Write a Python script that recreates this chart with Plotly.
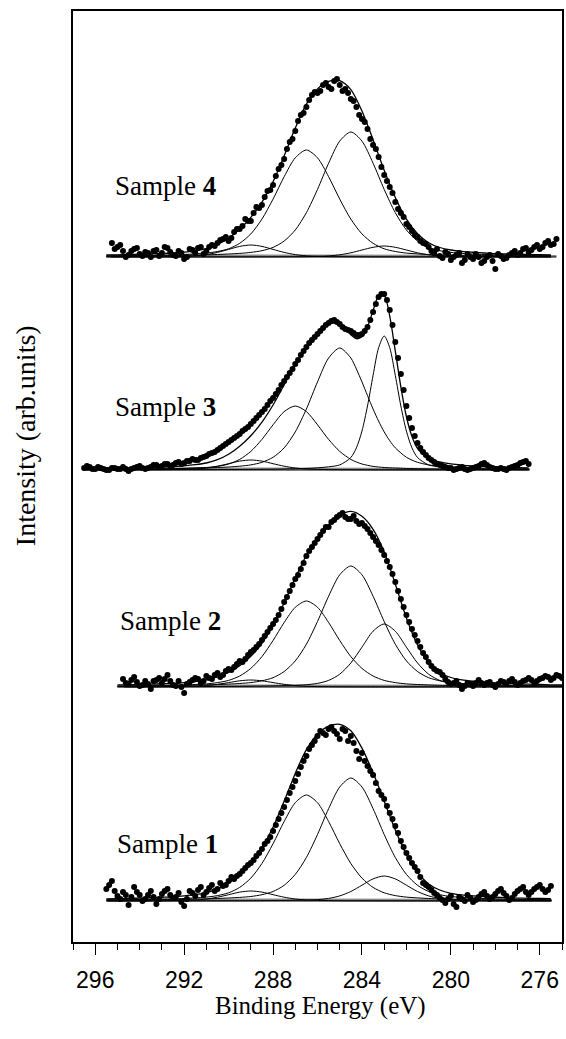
import plotly.graph_objects as go

# ---------------- data (binding energy in eV, intensity in arb. units above each baseline) ----------------
s4_e = [295.5,295.0,294.5,294.0,293.5,293.0,292.5,292.0,291.5,291.0,290.5,290.0,289.5,289.0,288.5,288.0,287.5,287.0,286.5,286.0,285.5,285.0,284.5,284.0,283.5,283.0,282.5,282.0,281.5,281.0,280.5,280.0,279.5,279.0,278.5,278.0,277.5,277.0,276.5,276.0,275.5]
s4_c1 = [0.8,0.9,1.0,1.1,1.2,1.35,1.5,1.7,1.9,2.1,2.5,3.0,3.6,4.6,6.3,9.6,16.0,27.0,44.3,67.6,93.8,115.9,125,115.9,93.8,67.6,44.3,27.0,16.0,9.6,6.3,4.6,3.6,3.0,2.5,2.1,1.9,1.7,1.5,1.35,1.2]
s4_c2 = [1.1,1.2,1.3,1.45,1.6,1.8,2.1,2.5,3.1,3.9,5.5,8.2,13.7,23.1,37.9,57.9,80.3,99.2,107,99.2,80.3,57.9,37.9,23.1,13.7,8.2,5.5,3.9,3.1,2.5,2.1,1.8,1.6,1.45,1.3,1.2,1.1,1.0,0.95,0.9,0.8]
s4_c3 = [0.15,0.15,0.15,0.2,0.25,0.3,0.4,0.7,1.2,2.4,4.6,7.6,10.6,12,10.6,7.6,4.6,2.4,1.2,0.7,0.4,0.3,0.25,0.2,0.15,0.15,0.12,0.12,0.1,0.1,0.1,0.1,0.1,0.1,0.1,0.1,0.1,0.1,0.1,0.1,0.1]
s4_c4 = [0.1,0.1,0.1,0.1,0.1,0.1,0.1,0.1,0.1,0.1,0.12,0.15,0.15,0.15,0.18,0.2,0.25,0.3,0.4,0.6,1.1,2.2,4.2,7.0,9.7,11,9.7,7.0,4.2,2.2,1.1,0.6,0.4,0.3,0.25,0.2,0.18,0.15,0.15,0.12,0.12]
s4_env = [2.0,2.2,2.5,2.8,3.1,3.5,4.0,4.9,6.2,8.4,12.6,18.8,27.9,39.7,54.8,75.3,101.2,128.9,152.9,168.1,175.6,176.3,167.3,146.0,117.2,86.8,59.5,37.9,23.3,14.3,9.5,7.0,5.6,4.75,4.0,3.4,3.0,2.7,2.5,2.3,2.0]
s4_dot_e = [295.25,295.0,294.75,294.5,294.25,294.0,293.75,293.5,293.25,293.0,292.75,292.5,292.25,292.0,291.75,291.5,291.25,291.0,290.75,290.5,290.25,290.0,289.75,289.5,289.25,289.0,288.75,288.5,288.25,288.0,287.75,287.5,287.25,287.0,286.75,286.5,286.25,286.0,285.75,285.5,285.25,285.0,284.75,284.5,284.25,284.0,283.75,283.5,283.25,283.0,282.75,282.5,282.25,282.0,281.75,281.5,281.25,281.0,280.75,280.5,280.25,280.0,279.75,279.5,279.25,279.0,278.75,278.5,278.25,278.0,277.75,277.5,277.25,277.0,276.75,276.5,276.25,276.0,275.75,275.5,275.25,
            295.125,294.875,294.625,294.375,294.125,293.875,293.625,293.375,293.125,292.875,292.625,292.375,292.125,291.875,291.625,291.375,291.125,290.875,290.625,290.375,290.125,289.875,289.625,289.375,289.125,288.875,288.625,288.375,288.125,287.875,287.625,287.375,287.125,286.875,286.625,286.375,286.125,285.875,285.625,285.375,285.125,284.875,284.625,284.375,284.125,283.875,283.625,283.375,283.125,282.875,282.625,282.375,282.125,281.875,281.625,281.375,281.125,280.875,280.625,280.375,280.125,279.875,279.625,279.375,279.125,278.875,278.625,278.375,278.125,277.875,277.625,277.375,277.125,276.875,276.625,276.375,276.125,275.875,275.625,275.375]
s4_dot_i = [14,10,6,2,8,3,5,0,7,4,9,2,6,-2,8,4,10,6,12,14,18,16,25,28,38,36,50,52,66,72,88,98,115,126,142,150,162,164,172,170,176,172,168,158,150,138,128,112,100,82,70,55,44,33,26,20,14,10,4,1,5,-3,2,-6,3,-2,0,-4,2,-12,1,-1,4,2,8,5,10,8,14,12,18,
            8,12,0,6,9,1,4,6,1,10,5,1,4,0,7,9,3,10,11,17,20,19,28,31,36,44,49,60,67,81,92,108,118,136,144,157,165,166,174,168,178,166,164,156,142,135,118,108,90,76,64,48,40,30,22,16,13,6,8,-1,3,0,4,-3,0,3,-6,0,-4,3,-2,2,6,4,9,7,12,10,16,13]

s3_e = [296.5,296.0,295.5,295.0,294.5,294.0,293.5,293.0,292.5,292.0,291.5,291.0,290.5,290.0,289.5,289.0,288.5,288.0,287.5,287.0,286.5,286.0,285.5,285.0,284.5,284.25,284.0,283.75,283.5,283.25,283.0,282.75,282.5,282.25,282.0,281.75,281.5,281.0,280.5,280.0,279.5,279.0,278.5,278.0,277.5,277.0,276.5]
s3_c1 = [0.2,0.2,0.22,0.22,0.25,0.25,0.28,0.3,0.32,0.35,0.38,0.4,0.45,0.5,0.55,0.6,0.7,0.8,1.0,1.3,1.6,2.2,3.2,5.1,12.5,22.1,38.9,64.0,94.6,122.3,134,122.3,94.6,64.0,38.9,22.1,12.5,5.1,3.2,2.2,1.6,1.3,1.0,0.8,0.7,0.6,0.55]
s3_c2 = [0.75,0.8,0.85,0.9,1.0,1.1,1.2,1.3,1.5,1.7,1.9,2.1,2.5,3.0,3.8,5.1,7.7,12.7,22.1,38.1,61,88.1,112,122,112,101,88.1,74.4,61,48.8,38.1,29.3,22.1,17.1,12.7,9.9,7.7,5.1,3.8,3.0,2.5,2.1,1.9,1.7,1.5,1.3,1.2]
s3_c3 = [0.45,0.5,0.55,0.6,0.7,0.8,0.95,1.1,1.3,1.5,2.0,2.5,3.6,6.0,10.6,18.6,30.6,45.2,58.4,64,58.4,45.2,30.6,18.6,10.6,8.0,6.0,4.7,3.6,3.0,2.5,2.2,2.0,1.8,1.5,1.4,1.3,1.1,0.95,0.8,0.7,0.6,0.55,0.5,0.45,0.4,0.37]
s3_c4 = [0.1,0.1,0.12,0.15,0.18,0.2,0.25,0.3,0.4,0.6,1.0,2.0,3.8,6.3,8.9,10,8.9,6.3,3.8,2.0,1.0,0.6,0.4,0.3,0.25,0.22,0.2,0.2,0.18,0.17,0.15,0.15,0.15,0.15,0.15,0.15,0.15,0.1,0.1,0.1,0.1,0.1,0.1,0.1,0.1,0.1,0.1]
s3_env = [1.5,1.6,1.74,1.87,2.13,2.35,2.68,3.0,3.52,4.15,5.28,7.0,10.35,15.8,23.85,34.3,47.9,65.0,85.3,105.4,122,136.1,146.2,146,135.35,131.3,133.2,143.3,159.4,174.3,174.75,153.95,118.85,83.05,53.25,33.55,21.65,11.45,8.05,6.1,4.9,4.1,3.55,3.1,2.75,2.4,2.22]
s3_dot_e = [296.5,296.25,296.0,295.75,295.5,295.25,295.0,294.75,294.5,294.25,294.0,293.75,293.5,293.25,293.0,292.75,292.5,292.25,292.0,291.75,291.5,291.25,291.0,290.75,290.5,290.25,290.0,289.75,289.5,289.25,289.0,288.75,288.5,288.25,288.0,287.75,287.5,287.25,287.0,286.75,286.5,286.25,286.0,285.75,285.5,285.25,285.0,284.75,284.5,284.25,284.0,283.75,283.5,283.25,283.0,282.75,282.5,282.25,282.0,281.75,281.5,281.25,281.0,280.75,280.5,280.25,280.0,279.75,279.5,279.25,279.0,278.75,278.5,278.25,278.0,277.75,277.5,277.25,277.0,276.75,276.5,
            296.375,296.125,295.875,295.625,295.375,295.125,294.875,294.625,294.375,294.125,293.875,293.625,293.375,293.125,292.875,292.625,292.375,292.125,291.875,291.625,291.375,291.125,290.875,290.625,290.375,290.125,289.875,289.625,289.375,289.125,288.875,288.625,288.375,288.125,287.875,287.625,287.375,287.125,286.875,286.625,286.375,286.125,285.875,285.625,285.375,285.125,284.875,284.625,284.375,284.125,283.875,283.625,283.375,283.125,282.875,282.625,282.375,282.125,281.875,281.625,281.375,281.125,280.875,280.625,280.375,280.125,279.875,279.625,279.375,279.125,278.875,278.625,278.375,278.125,277.875,277.625,277.375,277.125,276.875,276.625]
s3_dot_i = [2,3,1,2,0,2,1,3,-1,2,4,1,3,5,4,6,5,8,7,9,10,12,14,17,20,24,28,32,36,41,46,52,58,65,72,80,89,97,106,115,123,130,136,142,147,150,146,141,139,135,136,143,158,173,176,160,128,96,64,42,27,18,12,8,5,3,2,1,3,0,2,4,7,3,1,2,0,3,5,8,6,
            4,1,3,1,0,2,1,1,1,3,2,2,5,3,6,4,7,6,9,11,10,13,16,18,22,26,30,34,39,43,49,55,61,69,76,85,93,101,110,119,127,133,139,145,149,148,143,140,137,135,139,150,166,176,170,145,112,80,52,34,22,15,10,6,4,2,0,2,1,1,3,6,5,2,1,1,2,4,7,9]

s2_e = [295.0,294.5,294.0,293.5,293.0,292.5,292.0,291.5,291.0,290.5,290.0,289.5,289.0,288.5,288.0,287.5,287.0,286.5,286.0,285.5,285.0,284.5,284.0,283.5,283.0,282.5,282.0,281.5,281.0,280.5,280.0,279.5,279.0,278.5,278.0,277.5,277.0,276.5,276.0,275.5,275.0]
s2_c1 = [0.85,0.9,1.0,1.1,1.25,1.4,1.6,1.8,2.1,2.4,2.9,3.5,4.4,6.2,9.3,15.5,26.1,42.8,65.5,90.8,112.2,121,112.2,90.8,65.5,42.8,26.1,15.5,9.3,6.2,4.4,3.5,2.9,2.4,2.1,1.8,1.6,1.4,1.25,1.1,1.0]
s2_c2 = [0.9,1.0,1.15,1.3,1.5,1.7,2.1,2.5,3.1,4.4,6.6,11.0,18.6,30.4,46.5,64.5,79.7,86,79.7,64.5,46.5,30.4,18.6,11.0,6.6,4.4,3.1,2.5,2.1,1.7,1.5,1.3,1.15,1.0,0.9,0.8,0.75,0.7,0.65,0.6,0.55]
s2_c3 = [0.2,0.2,0.25,0.25,0.3,0.32,0.35,0.38,0.45,0.5,0.6,0.7,0.8,0.95,1.1,1.4,1.7,2.3,3.6,6.6,12.8,24.0,39.8,55.8,63,55.8,39.8,24.0,12.8,6.6,3.6,2.3,1.7,1.4,1.1,0.95,0.8,0.7,0.6,0.5,0.45]
s2_c4 = [0.1,0.1,0.12,0.15,0.2,0.3,0.4,0.7,1.4,2.7,4.4,6.2,7,6.2,4.4,2.7,1.4,0.7,0.4,0.3,0.2,0.15,0.12,0.1,0.1,0.1,0.1,0.1,0.1,0.1,0.1,0.1,0.1,0.1,0.1,0.1,0.1,0.1,0.1,0.1,0.1]
s2_env = [2.05,2.2,2.5,2.8,3.25,3.7,4.45,5.4,7.05,10.0,14.5,21.4,30.8,43.75,61.3,84.1,108.9,131.8,149.2,162.2,171.7,175.6,170.7,157.7,135.2,103.0,69.0,42.0,24.2,14.5,9.5,7.1,5.75,4.8,4.1,3.55,3.15,2.8,2.5,2.2,2.0]
s2_dot_e = [294.75,294.5,294.25,294.0,293.75,293.5,293.25,293.0,292.75,292.5,292.25,292.0,291.75,291.5,291.25,291.0,290.75,290.5,290.25,290.0,289.75,289.5,289.25,289.0,288.75,288.5,288.25,288.0,287.75,287.5,287.25,287.0,286.75,286.5,286.25,286.0,285.75,285.5,285.25,285.0,284.75,284.5,284.25,284.0,283.75,283.5,283.25,283.0,282.75,282.5,282.25,282.0,281.75,281.5,281.25,281.0,280.75,280.5,280.25,280.0,279.75,279.5,279.25,279.0,278.75,278.5,278.25,278.0,277.75,277.5,277.25,277.0,276.75,276.5,276.25,276.0,275.75,275.5,275.25,275.0,
            294.625,294.375,294.125,293.875,293.625,293.375,293.125,292.875,292.625,292.375,292.125,291.875,291.625,291.375,291.125,290.875,290.625,290.375,290.125,289.875,289.625,289.375,289.125,288.875,288.625,288.375,288.125,287.875,287.625,287.375,287.125,286.875,286.625,286.375,286.125,285.875,285.625,285.375,285.125,284.875,284.625,284.375,284.125,283.875,283.625,283.375,283.125,282.875,282.625,282.375,282.125,281.875,281.625,281.375,281.125,280.875,280.625,280.375,280.125,279.875,279.625,279.375,279.125,278.875,278.625,278.375,278.125,277.875,277.625,277.375,277.125,276.875,276.625,276.375,276.125,275.875,275.625,275.375,275.125]
s2_dot_i = [8,3,10,1,6,-2,7,4,12,2,6,-6,5,9,4,11,8,14,12,18,20,26,28,35,40,47,55,63,72,85,96,108,118,131,140,148,156,160,167,172,170,168,166,164,158,150,142,132,120,105,88,72,58,46,34,25,18,15,8,3,6,-2,4,1,7,2,5,0,6,3,8,2,6,9,4,8,11,7,12,9,
            4,7,5,2,3,6,9,8,6,1,0,3,7,8,6,9,12,10,16,17,23,25,32,37,43,51,59,67,78,90,102,112,124,136,144,152,160,165,170,174,168,171,163,161,154,146,137,126,113,96,80,65,52,40,30,21,16,12,5,4,2,1,3,4,4,4,2,3,5,6,5,4,7,7,6,9,10,9,11]

s1_e = [295.5,295.0,294.5,294.0,293.5,293.0,292.5,292.0,291.5,291.0,290.5,290.0,289.5,289.0,288.5,288.0,287.5,287.0,286.5,286.0,285.5,285.0,284.5,284.0,283.5,283.0,282.5,282.0,281.5,281.0,280.5,280.0,279.5,279.0,278.5,278.0,277.5,277.0,276.5,276.0,275.5]
s1_c1 = [0.8,0.9,1.0,1.1,1.2,1.35,1.5,1.65,1.85,2.1,2.5,3.0,3.6,4.5,6.3,9.5,15.7,26.6,43.5,66.5,92.3,114,123,114,92.3,66.5,43.5,26.6,15.7,9.5,6.3,4.5,3.6,3.0,2.5,2.1,1.85,1.65,1.5,1.35,1.2]
s1_c2 = [1.1,1.2,1.3,1.45,1.6,1.8,2.1,2.5,3.1,3.9,5.4,8.2,13.6,22.9,37.5,57.3,79.5,98.3,106,98.3,79.5,57.3,37.5,22.9,13.6,8.2,5.4,3.9,3.1,2.5,2.1,1.8,1.6,1.45,1.3,1.2,1.1,1.0,0.95,0.9,0.85]
s1_c3 = [0.1,0.1,0.1,0.12,0.12,0.12,0.13,0.15,0.17,0.2,0.22,0.25,0.27,0.3,0.38,0.44,0.55,0.7,0.9,1.4,2.6,5.1,9.5,15.8,22.1,25,22.1,15.8,9.5,5.1,2.6,1.4,0.9,0.7,0.55,0.44,0.38,0.3,0.27,0.25,0.22]
s1_c4 = [0.12,0.15,0.17,0.2,0.25,0.3,0.4,0.6,1.0,2.0,3.8,6.3,8.9,10,8.9,6.3,3.8,2.0,1.0,0.6,0.4,0.3,0.25,0.2,0.18,0.15,0.15,0.13,0.12,0.12,0.1,0.1,0.1,0.1,0.1,0.1,0.1,0.1,0.1,0.1,0.1]
s1_env = [2.05,2.3,2.6,2.9,3.25,3.7,4.2,5.1,6.3,8.3,12.1,17.9,26.5,37.9,53.3,73.8,99.9,127.6,151.4,166.8,174.8,176.7,170.2,152.9,128.2,99.8,71.0,46.3,28.3,17.1,11.0,7.7,6.1,5.15,4.35,3.75,3.3,2.95,2.7,2.5,2.3]
s1_dot_e = [295.5,295.25,295.0,294.75,294.5,294.25,294.0,293.75,293.5,293.25,293.0,292.75,292.5,292.25,292.0,291.75,291.5,291.25,291.0,290.75,290.5,290.25,290.0,289.75,289.5,289.25,289.0,288.75,288.5,288.25,288.0,287.75,287.5,287.25,287.0,286.75,286.5,286.25,286.0,285.75,285.5,285.25,285.0,284.75,284.5,284.25,284.0,283.75,283.5,283.25,283.0,282.75,282.5,282.25,282.0,281.75,281.5,281.25,281.0,280.75,280.5,280.25,280.0,279.75,279.5,279.25,279.0,278.75,278.5,278.25,278.0,277.75,277.5,277.25,277.0,276.75,276.5,276.25,276.0,275.75,275.5,
            295.375,295.125,294.875,294.625,294.375,294.125,293.875,293.625,293.375,293.125,292.875,292.625,292.375,292.125,291.875,291.625,291.375,291.125,290.875,290.625,290.375,290.125,289.875,289.625,289.375,289.125,288.875,288.625,288.375,288.125,287.875,287.625,287.375,287.125,286.875,286.625,286.375,286.125,285.875,285.625,285.375,285.125,284.875,284.625,284.375,284.125,283.875,283.625,283.375,283.125,282.875,282.625,282.375,282.125,281.875,281.625,281.375,281.125,280.875,280.625,280.375,280.125,279.875,279.625,279.375,279.125,278.875,278.625,278.375,278.125,277.875,277.625,277.375,277.125,276.875,276.625,276.375,276.125,275.875,275.625]
s1_dot_i = [12,20,5,9,-4,14,6,2,10,-3,7,12,3,8,-5,10,5,14,9,16,12,15,20,22,27,33,38,45,52,60,70,82,94,108,120,134,145,156,165,168,172,170,162,170,165,150,148,135,126,110,102,88,75,60,48,38,30,18,14,8,3,-2,5,-6,2,6,-1,4,9,2,7,12,5,3,10,14,6,12,16,9,15,
            16,10,2,6,4,9,0,6,4,2,10,6,4,-1,2,8,11,6,13,10,18,16,24,25,30,36,41,48,57,64,76,88,101,114,127,140,152,160,170,166,174,167,172,160,158,142,140,130,118,106,95,82,68,54,43,34,24,16,11,6,1,2,-3,4,0,3,1,7,5,4,10,8,1,7,12,9,9,14,12,11]

# vertical offsets (baselines) of the stacked spectra and the measured energy span of each
sample_names = ["1", "2", "3", "4"]
baseline_level = [41, 255, 472, 685]
baseline_span = [(295.45, 275.45), (294.7, 275.0), (296.5, 276.45), (295.3, 275.25)]

spectra = [
    (s1_e, [s1_c1, s1_c2, s1_c3, s1_c4], s1_env, s1_dot_e, s1_dot_i),
    (s2_e, [s2_c1, s2_c2, s2_c3, s2_c4], s2_env, s2_dot_e, s2_dot_i),
    (s3_e, [s3_c1, s3_c2, s3_c3, s3_c4], s3_env, s3_dot_e, s3_dot_i),
    (s4_e, [s4_c1, s4_c2, s4_c3, s4_c4], s4_env, s4_dot_e, s4_dot_i),
]

x_ticks = [296, 292, 288, 284, 280, 276]

# ---------------- figure ----------------
fig = go.Figure()
for k, (e, comps, env, de, di) in enumerate(spectra):
    b = baseline_level[k]
    x0, x1 = baseline_span[k]
    fig.add_trace(go.Scatter(x=[x0, x1], y=[b + 1.5, b + 1.0], mode="lines",
                             line=dict(color="#8a8a8a", width=2.2), hoverinfo="skip"))
    fig.add_trace(go.Scatter(x=[x0, x1], y=[b, b], mode="lines",
                             line=dict(color="black", width=1.1), hoverinfo="skip"))
    for c in comps:
        fig.add_trace(go.Scatter(x=e, y=[b + v for v in c], mode="lines",
                                 line=dict(color="black", width=1.0, shape="spline", smoothing=0.8),
                                 hoverinfo="skip"))
    fig.add_trace(go.Scatter(x=e, y=[b + v for v in env], mode="lines",
                             line=dict(color="black", width=1.3, shape="spline", smoothing=0.8),
                             hoverinfo="skip"))
    fig.add_trace(go.Scatter(x=de, y=[b + v for v in di], mode="markers",
                             marker=dict(color="black", size=6, line=dict(width=0)),
                             hoverinfo="skip"))

L, R, T, B = 73, 564, 11, 942
W, H = 566, 1039


def px(xp):
    return (xp - L) / (R - L)


def py(yp):
    return (B - yp) / (B - T)


serif = "Liberation Serif, Times New Roman, serif"
label_pos = [(115, 844), (118, 621), (113, 407), (113, 186)]
for name, (lx, ly) in zip(sample_names, label_pos):
    fig.add_annotation(x=px(lx), y=py(ly), xref="paper", yref="paper", xanchor="left", yanchor="middle",
                       text="Sample <b>%s</b>" % name, showarrow=False,
                       font=dict(family=serif, size=27, color="black"))

fig.add_annotation(x=px(322), y=py(1006), xref="paper", yref="paper", xanchor="center", yanchor="middle",
                   text="Binding Energy (eV)", showarrow=False,
                   font=dict(family=serif, size=25, color="black"))
fig.add_annotation(x=px(25), y=py(436), xref="paper", yref="paper", xanchor="center", yanchor="middle",
                   text="Intensity (arb.units)", showarrow=False, textangle=-90,
                   font=dict(family=serif, size=28, color="black"))

fig.update_layout(
    width=W, height=H,
    margin=dict(l=L, r=W - R, t=T, b=H - B),
    paper_bgcolor="white", plot_bgcolor="white",
    showlegend=False,
    xaxis=dict(range=[297, 275], tickvals=x_ticks, ticktext=[str(t) for t in x_ticks],
               ticks="outside", ticklen=11, tickwidth=1.3, tickcolor="black",
               showline=True, linewidth=2, linecolor="black", mirror=True,
               showgrid=False, zeroline=False,
               tickfont=dict(family="Liberation Sans, Arial, sans-serif", size=23, color="black"),
               ticklabelstandoff=5,
               minor=dict(ticks="outside", ticklen=6, tickwidth=1.1, tickcolor="black",
                          dtick=1, tick0=0, showgrid=False)),
    yaxis=dict(range=[0, B - T], showticklabels=False, ticks="", showgrid=False, zeroline=False,
               showline=True, linewidth=2, linecolor="black", mirror=True),
)

fig.write_html("out.html")
